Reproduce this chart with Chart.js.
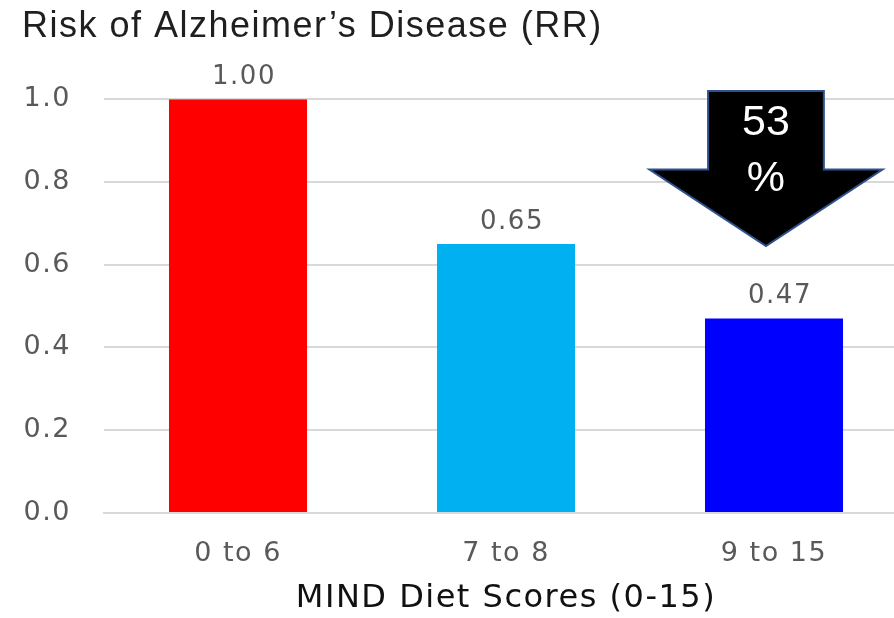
<!DOCTYPE html>
<html>
<head>
<meta charset="utf-8">
<script src="https://cdn.jsdelivr.net/npm/chart.js@4.4.1/dist/chart.umd.min.js"></script>
<style>
  html, body { margin: 0; padding: 0; background: #fff; overflow: hidden; }
  #wrap { width: 912px; height: 618px; }
</style>
</head>
<body>
<div id="wrap"><canvas id="chart" width="912" height="618"></canvas></div>
<script>
const categories = ['0 to 6', '7 to 8', '9 to 15'];
const riskValues = [1.00, 0.65, 0.47];
const valueLabels = ['1.00', '0.65', '0.47'];
const barColors = ['#ff0000', '#00b0f0', '#0000ff'];
const arrowText = ['53', '%'];

// the source text is wide, so space the letters a little
const wideText = {
  id: 'wideText',
  beforeDraw(chart) {
    chart.ctx.letterSpacing = '1.5px';
  }
};

// value labels above each bar
const valueLabelPlugin = {
  id: 'valueLabels',
  afterDatasetsDraw(chart) {
    const ctx = chart.ctx;
    const meta = chart.getDatasetMeta(0);
    ctx.save();
    ctx.font = '26px "DejaVu Sans"';
    ctx.fillStyle = '#595959';
    ctx.textAlign = 'center';
    ctx.textBaseline = 'middle';
    meta.data.forEach((bar, i) => {
      ctx.fillText(valueLabels[i], bar.x + 6, bar.y - 22);
    });
    ctx.restore();
  }
};

// big down arrow over the last bar
const arrowPlugin = {
  id: 'dropArrow',
  afterDatasetsDraw(chart, args, opts) {
    const { ctx, scales: { x, y } } = chart;
    const step = x.getPixelForValue(1) - x.getPixelForValue(0);
    const cx = x.getPixelForValue(opts.index) + opts.shift * step;
    const bodyHalf = opts.bodyHalf * step;
    const headHalf = opts.headHalf * step;
    const top = y.getPixelForValue(opts.top);
    const shoulder = y.getPixelForValue(opts.shoulder);
    const tip = y.getPixelForValue(opts.tip);

    ctx.save();
    ctx.beginPath();
    ctx.moveTo(cx - bodyHalf, top);
    ctx.lineTo(cx + bodyHalf, top);
    ctx.lineTo(cx + bodyHalf, shoulder);
    ctx.lineTo(cx + headHalf, shoulder);
    ctx.lineTo(cx, tip);
    ctx.lineTo(cx - headHalf, shoulder);
    ctx.lineTo(cx - bodyHalf, shoulder);
    ctx.closePath();
    ctx.fillStyle = '#000';
    ctx.fill();
    ctx.lineWidth = 2;
    ctx.strokeStyle = '#2f528f';
    ctx.stroke();

    ctx.letterSpacing = '0px';
    ctx.fillStyle = '#fff';
    ctx.font = '43px "Liberation Sans"';
    ctx.textAlign = 'center';
    ctx.textBaseline = 'middle';
    ctx.fillText(arrowText[0], cx, top + 32);
    ctx.fillText(arrowText[1], cx, top + 88);
    ctx.restore();
  }
};

new Chart(document.getElementById('chart'), {
  type: 'bar',
  data: {
    labels: categories,
    datasets: [{
      label: 'RR',
      data: riskValues,
      backgroundColor: barColors,
      borderWidth: 0,
      categoryPercentage: 1,
      barPercentage: 0.515
    }]
  },
  plugins: [wideText, valueLabelPlugin, arrowPlugin],
  options: {
    responsive: false,
    animation: false,
    layout: { padding: { left: 22, right: 4, top: 0, bottom: 0 } },
    plugins: {
      legend: { display: false },
      tooltip: { enabled: false },
      title: {
        display: true,
        text: 'Risk of Alzheimer\u2019s Disease (RR)',
        align: 'start',
        color: '#1f1f1f',
        font: { family: '"Liberation Sans"', size: 36, weight: 'normal' },
        padding: { top: 5, bottom: 51 }
      },
      dropArrow: {
        index: 2,
        shift: -0.03,
        bodyHalf: 0.216,
        headHalf: 0.435,
        top: 1.02,
        shoulder: 0.83,
        tip: 0.645
      }
    },
    scales: {
      x: {
        grid: { display: false, drawTicks: false },
        border: { display: true, color: '#d9d9d9', width: 2 },
        ticks: {
          color: '#595959',
          padding: 25,
          font: { family: '"DejaVu Sans"', size: 27 }
        },
        title: {
          display: true,
          text: 'MIND Diet Scores (0-15)',
          color: '#111',
          font: { family: '"DejaVu Sans"', size: 32 },
          padding: { top: 11, bottom: 0 }
        },
        afterFit(scale) { scale.height = 105; }
      },
      y: {
        min: 0,
        max: 1.0,
        grid: { color: '#d9d9d9', lineWidth: 2, drawTicks: false },
        border: { display: false },
        ticks: {
          stepSize: 0.2,
          color: '#595959',
          padding: 33,
          font: { family: '"DejaVu Sans"', size: 27 },
          callback: v => v.toFixed(1)
        },
        afterFit(scale) { scale.width = 82; }
      }
    }
  }
});
</script>
</body>
</html>
